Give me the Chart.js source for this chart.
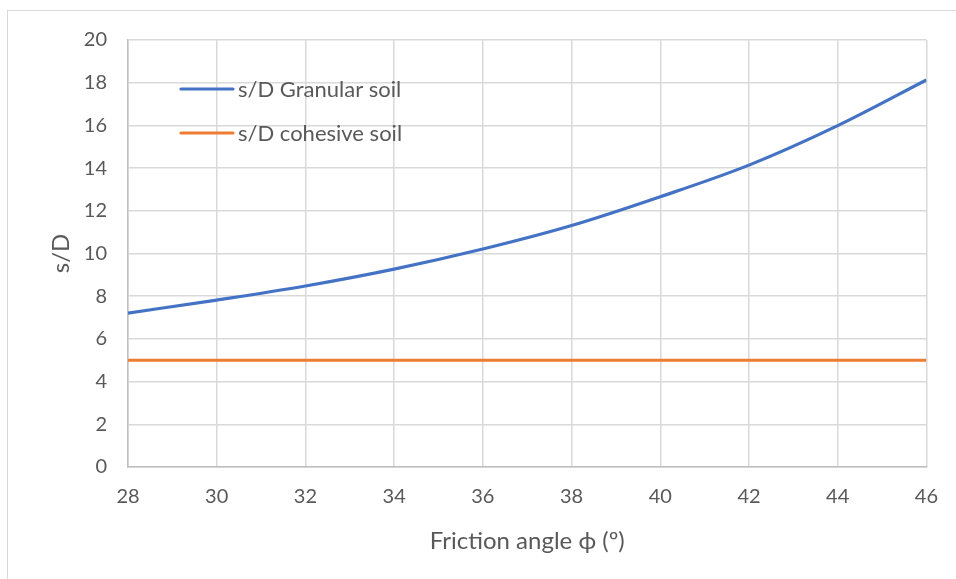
<!DOCTYPE html>
<html>
<head>
<meta charset="utf-8">
<script src="https://cdn.jsdelivr.net/npm/chart.js@4/dist/chart.umd.min.js"></script>
<style>
  html, body { margin: 0; padding: 0; background: #fff; }
  #wrap { position: relative; width: 956px; height: 579px; overflow: hidden; }
  #frame { position: absolute; left: 7px; top: 10px; width: 980px; height: 600px;
           border: 1px solid #d9d9d9; box-sizing: border-box; }
  canvas { position: absolute; left: 0; top: 0; }
</style>
</head>
<body>
<div id="wrap">
  <div id="frame"></div>
  <canvas id="chart" width="956" height="579"></canvas>
</div>
<script>
// Friction angle (degrees) and settlement ratio s/D
const frictionAngle = [28, 30, 32, 34, 36, 38, 40, 42, 44, 46];
const granularSoil  = [7.21, 7.82, 8.48, 9.27, 10.21, 11.31, 12.66, 14.14, 15.99, 18.13];
const cohesiveSoil  = [5, 5, 5, 5, 5, 5, 5, 5, 5, 5];
const seriesNames   = ['s/D Granular soil', 's/D cohesive soil'];
const seriesColors  = ['#4472C4', '#ED7D31'];

const FONT = 'Lato, "Open Sans", sans-serif';
const TEXT = '#595959';
const GRID = '#d9d9d9';

const toPoints = (ys) => frictionAngle.map((x, i) => ({ x, y: ys[i] }));

// Legend drawn inside the plot area, top-left
const insideLegend = {
  id: 'insideLegend',
  afterDatasetsDraw(chart) {
    const { ctx, chartArea } = chart;
    const x0 = chartArea.left + 53, x1 = chartArea.left + 105;
    const rows = [chartArea.top + 49, chartArea.top + 93];
    ctx.save();
    ctx.font = '22px ' + FONT;
    ctx.textBaseline = 'middle';
    chart.data.datasets.forEach((ds, i) => {
      ctx.strokeStyle = ds.borderColor;
      ctx.lineWidth = 3.2;
      ctx.lineCap = 'round';
      ctx.beginPath();
      ctx.moveTo(x0, rows[i]);
      ctx.lineTo(x1, rows[i]);
      ctx.stroke();
      ctx.fillStyle = TEXT;
      ctx.fillText(ds.label, x1 + 5, rows[i] + 1);
    });
    ctx.restore();
  }
};

new Chart(document.getElementById('chart'), {
  type: 'line',
  data: {
    datasets: [
      { label: seriesNames[0], data: toPoints(granularSoil), borderColor: seriesColors[0],
        borderWidth: 3.2, pointRadius: 0, cubicInterpolationMode: 'monotone' },
      { label: seriesNames[1], data: toPoints(cohesiveSoil), borderColor: seriesColors[1],
        borderWidth: 3.2, pointRadius: 0 }
    ]
  },
  options: {
    responsive: false,
    animation: false,
    layout: { padding: { left: 0, top: 40, right: 29, bottom: 0 } },
    plugins: { legend: { display: false }, tooltip: { enabled: false } },
    scales: {
      x: {
        type: 'linear', min: 28, max: 46,
        afterFit(scale) { scale.height = 112; },
        ticks: { stepSize: 2, color: TEXT, font: { family: FONT, size: 20 }, padding: 18 },
        grid: { color: GRID, lineWidth: 1.5, drawTicks: false },
        border: { color: '#bfbfbf', width: 1.5 },
        title: { display: true, text: 'Friction angle ϕ (º)', color: TEXT,
                 font: { family: FONT, size: 24 }, padding: 23 }
      },
      y: {
        min: 0, max: 20,
        afterFit(scale) { scale.width = 128; },
        ticks: { stepSize: 2, color: TEXT, font: { family: FONT, size: 20 }, padding: 21 },
        grid: { color: GRID, lineWidth: 1.5, drawTicks: false },
        border: { color: '#bfbfbf', width: 1.5 },
        title: { display: true, text: 's/D', color: TEXT,
                 font: { family: FONT, size: 24 }, padding: 47 }
      }
    }
  },
  plugins: [insideLegend]
});
</script>
</body>
</html>
